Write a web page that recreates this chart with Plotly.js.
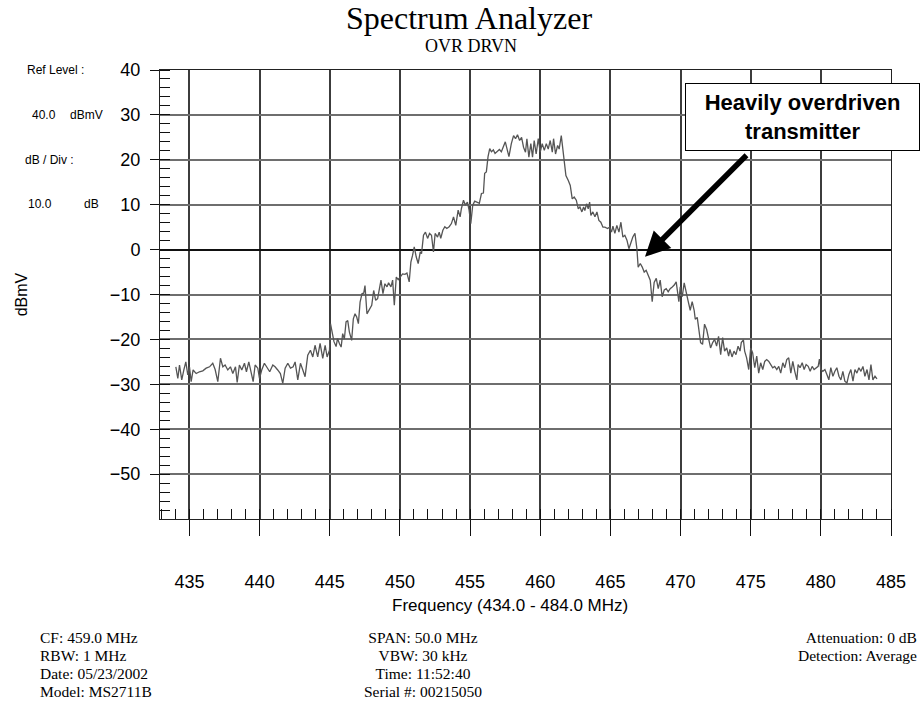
<!DOCTYPE html>
<html>
<head>
<meta charset="utf-8">
<script src="https://cdn.plot.ly/plotly-3.0.1.min.js"></script>
<style>html,body{margin:0;padding:0;background:#fff;}#chart{width:922px;height:701px;}</style>
</head>
<body>
<div id="chart"></div>
<script>
// ---- data ----
const freqMHz = [
434.03,434.17,434.29,434.45,434.6,434.74,434.88,435.0,435.12,435.26,
435.48,435.71,435.95,436.19,436.43,436.66,436.83,437.02,437.21,437.38,
437.54,437.73,437.92,438.09,438.28,438.4,438.56,438.73,438.92,439.06,
439.23,439.39,439.54,439.68,439.87,439.99,440.15,440.34,440.53,440.72,
440.94,441.1,441.29,441.48,441.65,441.82,442.01,442.2,442.39,442.53,
442.72,442.91,443.08,443.24,443.43,443.62,443.79,443.95,444.14,444.31,
444.5,444.67,444.81,444.98,
445.05,445.2,445.3,445.45,445.55,445.7,
445.81,445.92,446.04,446.16,446.28,446.4,446.56,446.68,446.8,446.92,
447.04,447.16,447.3,447.42,447.51,447.65,447.82,447.99,448.13,448.27,
448.41,448.53,448.65,448.79,448.93,449.08,449.19,449.36,449.48,449.6,
449.74,449.88,450.02,450.19,450.36,450.5,450.66,450.78,450.9,451.02,
451.16,451.3,451.45,451.54,451.68,451.82,451.97,452.11,452.25,452.39,
452.51,452.68,452.8,452.91,453.06,453.2,453.34,453.51,453.67,453.82,
453.98,454.15,454.29,454.38,454.53,454.67,454.81,454.93,455.05,455.19,
455.33,455.52,455.66,455.81,455.95,456.04,456.16,456.28,456.4,456.52,
456.66,456.78,456.94,457.09,457.23,457.37,457.51,457.65,457.77,457.94,
458.1,458.24,458.38,458.53,458.67,458.81,458.95,459.05,459.19,459.33,
459.45,459.57,459.71,459.86,460.0,460.14,460.29,460.43,460.57,460.71,
460.86,460.95,461.09,461.24,461.35,461.5,461.66,461.83,462.0,462.14,
462.28,462.42,462.57,462.71,462.83,462.97,463.09,463.18,463.3,463.42,
463.52,463.61,463.75,463.9,464.04,464.18,464.32,464.47,464.61,464.8,
464.94,465.08,465.18,465.32,465.46,465.61,465.75,465.89,466.03,466.18,
466.32,466.46,466.6,466.75,466.89,466.98,467.13,467.27,467.41,467.55,
467.7,467.84,467.98,468.12,468.27,468.41,468.55,468.69,468.84,468.98,
469.12,469.26,469.41,469.55,469.69,469.79,469.88,469.98,470.12,470.26,
470.4,470.55,470.69,470.83,470.97,
471.05,471.19,471.33,471.43,471.57,471.71,471.86,472.0,472.14,472.29,
472.43,472.57,472.71,472.86,473.0,473.14,473.29,473.43,473.52,473.67,
473.81,473.95,474.1,474.24,474.33,474.48,474.57,474.71,474.86,475.0,
475.14,475.29,475.43,475.57,475.71,475.86,476.0,476.14,476.29,476.43,
476.57,476.71,476.86,477.0,477.14,477.29,477.43,477.57,477.71,477.86,
478.0,478.14,478.29,478.38,478.52,478.67,478.81,478.95,479.1,479.24,
479.38,479.52,479.67,479.81,479.9,480.0,480.14,480.29,480.43,480.57,
480.71,480.86,481.0,481.14,481.29,481.43,481.57,481.71,481.86,482.0,
482.14,482.29,482.43,482.57,482.71,482.86,483.0,483.14,483.29,483.43,
483.57,483.71,483.86,484.0
];
const levelDbmV = [
-26.1,-28.7,-25.7,-29.0,-26.8,-25.0,-27.9,-26.1,-29.4,-26.8,
-27.6,-27.2,-27.0,-26.4,-26.1,-25.3,-26.7,-29.4,-24.2,-26.1,
-25.7,-26.8,-26.1,-27.6,-26.1,-29.6,-25.7,-26.8,-25.3,-27.2,
-25.0,-27.6,-29.4,-25.7,-26.4,-28.7,-26.8,-25.3,-26.4,-27.2,
-25.7,-26.1,-26.8,-27.6,-29.8,-26.4,-25.3,-26.4,-26.1,-25.0,
-29.0,-25.3,-26.8,-28.3,-23.5,-22.4,-23.9,-21.3,-23.9,-20.9,
-24.2,-21.3,-23.9,-22.4,
-16.5,-19.3,-20.5,-21.6,-19.8,-21.0,
-21.7,-18.7,-19.9,-16.1,-15.8,-18.4,-20.2,-15.4,-14.3,-15.0,
-16.5,-11.7,-9.8,-9.7,-8.0,-14.3,-13.2,-12.4,-9.1,-11.3,
-10.9,-9.1,-6.8,-9.8,-7.6,-8.3,-7.4,-8.3,-6.8,-12.4,
-6.1,-6.7,-6.2,-5.4,-5.5,-5.2,-7.2,-2.8,-1.3,0.6,
-1.6,-3.1,-0.5,-0.9,3.2,3.9,2.5,3.6,3.2,-0.5,
3.6,2.8,3.9,2.5,4.3,5.1,4.7,5.1,5.8,7.3,
5.4,8.8,7.3,9.1,11.0,9.9,10.6,8.8,5.8,9.9,
10.8,10.4,10.3,12.5,12.6,17.0,17.3,20.7,22.5,21.8,
22.2,21.4,21.8,22.3,21.8,22.9,24.0,22.2,20.7,23.6,
25.4,24.7,25.6,24.3,25.0,22.8,21.7,24.7,20.6,23.6,
20.6,24.3,21.3,24.7,21.7,23.6,22.1,23.6,22.4,24.3,
21.7,24.7,21.3,23.2,22.4,25.4,21.3,16.5,15.4,14.3,
11.3,11.7,11.0,9.1,9.5,8.4,9.5,8.7,10.2,9.1,
10.6,7.6,8.4,7.3,8.4,6.5,6.1,5.0,5.0,4.7,
5.0,3.9,5.2,3.6,5.4,3.9,6.1,2.8,3.2,2.1,
0.2,1.6,2.8,3.6,0.2,-3.9,-3.1,-3.9,-5.0,-4.6,
-5.7,-6.8,-11.6,-7.3,-6.4,-8.7,-6.8,-10.5,-9.0,-8.7,
-9.4,-8.7,-8.3,-7.9,-7.2,-10.1,-11.6,-8.3,-10.5,-7.4,
-9.8,-11.6,-13.5,-11.6,-13.5,
-15.5,-15.1,-17.8,-20.7,-21.1,-16.6,-17.8,-19.6,-21.9,-20.7,
-20.0,-21.5,-19.3,-23.4,-19.6,-22.6,-21.9,-23.7,-22.2,-23.9,
-22.6,-23.4,-21.5,-22.6,-20.7,-20.1,-22.6,-24.1,-26.7,-21.9,
-23.0,-26.3,-23.7,-27.5,-25.2,-26.7,-24.9,-24.5,-24.9,-25.6,
-26.3,-26.0,-26.7,-26.0,-27.5,-25.2,-26.3,-24.5,-24.1,-27.5,
-24.9,-27.1,-29.0,-25.6,-26.3,-25.2,-26.7,-25.6,-26.0,-27.1,
-26.0,-26.7,-26.3,-26.0,-24.4,-26.7,-27.1,-26.7,-27.8,-29.0,
-26.3,-28.2,-27.1,-26.3,-28.2,-29.0,-27.1,-29.3,-29.7,-27.8,
-26.7,-29.3,-26.7,-27.5,-26.3,-27.1,-26.0,-28.2,-26.7,-29.0,
-25.6,-29.0,-28.2,-28.8
];
const xTickStart = 435, xTickStep = 5;
const yTickStart = -50, yTickStep = 10;

const leftInfo = [["Ref Level :", ""], ["40.0", "dBmV"], ["dB / Div :", ""], ["10.0", "dB"]];
const footLeft = ["CF: 459.0 MHz", "RBW: 1 MHz", "Date: 05/23/2002", "Model: MS2711B"];
const footMid = ["SPAN: 50.0 MHz", "VBW: 30 kHz", "Time: 11:52:40", "Serial #: 00215050"];
const footRight = ["Attenuation: 0 dB", "Detection: Average"];

// ---- layout helpers (pixel -> paper) ----
const L = 160, R = 891, T = 70, B = 519.5;
const px = v => (v - L) / (R - L);
const py = v => (B - v) / (B - T);
const SANS = "Liberation Sans, Arial, sans-serif";
const SERIF = "Liberation Serif, Times New Roman, serif";

const ann = [];
function txt(text, x, y, opts) {
  ann.push(Object.assign({text: text, xref: "paper", yref: "paper", x: px(x), y: py(y),
    showarrow: false, xanchor: "left", yanchor: "middle",
    font: {family: SANS, size: 12, color: "#000"}}, opts || {}));
}
const infoY = [70, 115, 160, 204];
txt(leftInfo[0][0], 25, infoY[0]);
txt(leftInfo[1][0], 30, infoY[1]); txt(leftInfo[1][1], 68, infoY[1]);
txt(leftInfo[2][0], 23, infoY[2]);
txt(leftInfo[3][0], 26, infoY[3]); txt(leftInfo[3][1], 82, infoY[3]);

txt("OVR DRVN", 471, 46, {xanchor: "center", font: {family: SERIF, size: 18, color: "#000"}});
txt("Frequency (434.0 - 484.0 MHz)", 510, 606, {xanchor: "center", font: {family: SANS, size: 17, color: "#000"}});

// footer blocks: one text per block, ~15.5px glyphs on an 18px line pitch
const big = s => '<span style="font-size:15.5px">' + s + '</span>';
const footTop = 628;
const footFont = {family: SERIF, size: 13.85, color: "#000"};
txt(footLeft.map(big).join("<br>"), 38, footTop, {yanchor: "top", align: "left", font: footFont});
txt(footMid.map(big).join("<br>"), 423, footTop, {yanchor: "top", xanchor: "center", align: "center", font: footFont});
txt(footRight.map(big).join("<br>"), 919, footTop, {yanchor: "top", xanchor: "right", align: "right", font: footFont});

// callout box
ann.push({text: "<b>Heavily overdriven<br>transmitter</b>", xref: "paper", yref: "paper",
  x: px(802.5), y: py(117), xanchor: "center", yanchor: "middle", showarrow: false,
  width: 229, height: 62, borderpad: 2, bordercolor: "#000", borderwidth: 1, bgcolor: "#fff",
  font: {family: SANS, size: 22, color: "#000"}});
// arrow
ann.push({text: "", xref: "paper", yref: "paper", x: px(645), y: py(257),
  showarrow: true, ax: 103, ay: -103, arrowhead: 2, arrowsize: 0.9, arrowwidth: 5.5,
  arrowcolor: "#000", standoff: 0});

const trace = {
  x: freqMHz, y: levelDbmV, type: "scatter", mode: "lines",
  line: {color: "#555", width: 1.3}, hoverinfo: "skip"
};

const layout = {
  width: 922, height: 701,
  margin: {l: L, r: 922 - R, t: T, b: 701 - B, pad: 0},
  paper_bgcolor: "#fff", plot_bgcolor: "#fff",
  showlegend: false, hovermode: false,
  title: {text: "Spectrum Analyzer", x: 469 / 922, xanchor: "center", y: 1 - 18 / 701, yanchor: "middle",
    font: {family: SERIF, size: 32, color: "#000"}},
  xaxis: {
    range: [432.9, 485], tickmode: "linear", tick0: xTickStart, dtick: xTickStep,
    ticks: "outside", ticklen: 16, tickwidth: 1, tickcolor: "#111",
    ticklabelstandoff: 30,
    showgrid: true, gridcolor: "#3c3c3c", gridwidth: 2, zeroline: false,
    showline: true, mirror: true, linecolor: "#222", linewidth: 1,
    tickfont: {family: SANS, size: 18, color: "#000"},
    minor: {tick0: 434, dtick: 1, ticks: "inside", ticklen: 10, tickwidth: 1, tickcolor: "#111", showgrid: false},
    fixedrange: true
  },
  yaxis: {
    range: [-59.99, 40], tickmode: "linear", tick0: yTickStart, dtick: yTickStep,
    ticks: "outside", ticklen: 9, tickwidth: 1, tickcolor: "#111",
    ticklabelstandoff: 6,
    showgrid: true, gridcolor: "#6e6e6e", gridwidth: 2,
    zeroline: true, zerolinecolor: "#111", zerolinewidth: 2,
    showline: true, mirror: true, linecolor: "#222", linewidth: 1,
    tickfont: {family: SANS, size: 18, color: "#000"},
    title: {text: "dBmV", standoff: 78, font: {family: SANS, size: 16, color: "#000"}},
    minor: {tick0: 0, dtick: 2, ticks: "inside", ticklen: 10, tickwidth: 1, tickcolor: "#111", showgrid: false},
    fixedrange: true
  },
  annotations: ann
};

Plotly.newPlot("chart", [trace], layout, {displayModeBar: false, responsive: false});
</script>
</body>
</html>
